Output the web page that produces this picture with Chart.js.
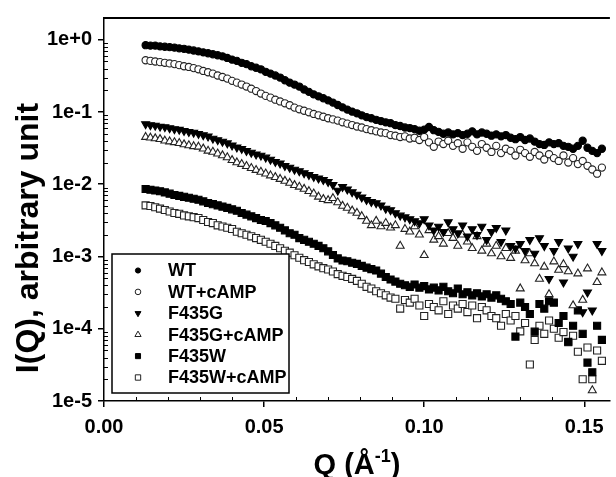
<!DOCTYPE html>
<html>
<head>
<meta charset="utf-8">
<script src="https://cdn.jsdelivr.net/npm/chart.js@4/dist/chart.umd.min.js"></script>
<style>
  html, body { margin: 0; padding: 0; background: #fff; }
  #marco { width: 616px; height: 477px; position: relative; }
</style>
</head>
<body>
<div id="marco"><canvas id="grafico"></canvas></div>
<script>
// Q grid (1/Å), shared by every curve
const q = [
  0.0130,0.0145,0.0160,0.0175,0.0190,0.0205,0.0220,0.0235,0.0250,0.0265,
  0.0280,0.0295,0.0310,0.0325,0.0340,0.0355,0.0370,0.0385,0.0400,0.0415,
  0.0430,0.0445,0.0460,0.0475,0.0490,0.0505,0.0520,0.0535,0.0550,0.0565,
  0.0580,0.0595,0.0610,0.0625,0.0640,0.0655,0.0670,0.0685,0.0700,0.0715,
  0.0730,0.0745,0.0760,0.0775,0.0790,0.0805,0.0820,0.0835,0.0850,0.0865,
  0.0880,0.0895,0.0910,0.0925,0.0940,0.0955,0.0970,0.0985,0.1000,0.1015,
  0.1030,0.1045,0.1060,0.1075,0.1090,0.1105,0.1120,0.1135,0.1150,0.1165,
  0.1180,0.1195,0.1210,0.1225,0.1240,0.1255,0.1270,0.1285,0.1300,0.1315,
  0.1330,0.1345,0.1360,0.1375,0.1390,0.1405,0.1420,0.1435,0.1450,0.1465,
  0.1480,0.1495,0.1510,0.1525,0.1540,0.1555
];

const iWT = [
  0.84,0.83,0.83,0.81,0.80,0.79,0.78,0.76,0.75,0.73,
  0.71,0.69,0.67,0.65,0.63,0.61,0.59,0.56,0.53,0.51,
  0.48,0.46,0.43,0.41,0.39,0.36,0.34,0.32,0.30,0.275,
  0.255,0.24,0.225,0.205,0.19,0.175,0.165,0.155,0.145,0.135,
  0.125,0.116,0.108,0.101,0.096,0.09,0.085,0.082,0.078,0.075,
  0.072,0.070,0.066,0.064,0.061,0.060,0.058,0.055,0.057,0.062,
  0.056,0.053,0.050,0.052,0.049,0.051,0.048,0.050,0.054,0.049,
  0.052,0.050,0.047,0.049,0.046,0.048,0.044,0.042,0.045,0.041,
  0.043,0.039,0.036,0.035,0.038,0.036,0.037,0.034,0.033,0.031,
  0.034,0.040,0.032,0.029,0.027,0.031
];

const iWTcAMP = [
  0.52,0.51,0.50,0.49,0.48,0.47,0.46,0.445,0.43,0.42,
  0.405,0.39,0.37,0.355,0.34,0.32,0.305,0.29,0.27,0.255,
  0.24,0.225,0.21,0.195,0.18,0.167,0.158,0.148,0.14,0.132,
  0.124,0.115,0.109,0.104,0.099,0.094,0.09,0.086,0.082,0.079,
  0.076,0.072,0.069,0.066,0.063,0.061,0.058,0.056,0.054,0.052,
  0.051,0.048,0.047,0.045,0.046,0.043,0.044,0.041,0.045,0.038,
  0.033,0.039,0.036,0.040,0.034,0.037,0.031,0.038,0.033,0.029,
  0.036,0.032,0.028,0.034,0.027,0.031,0.029,0.025,0.030,0.027,
  0.024,0.028,0.025,0.022,0.026,0.023,0.021,0.025,0.020,0.023,
  0.019,0.021,0.018,0.016,0.014,0.017
];

const iF435G = [
  0.068,0.066,0.065,0.063,0.062,0.060,0.058,0.057,0.055,0.053,
  0.052,0.050,0.048,0.046,0.043,0.041,0.039,0.037,0.0345,0.0325,
  0.031,0.029,0.0275,0.026,0.025,0.0235,0.022,0.0205,0.0195,0.018,
  0.017,0.016,0.0152,0.0143,0.0135,0.0127,0.0121,0.0115,0.0108,0.0098,
  0.0082,0.0092,0.0085,0.0078,0.0072,0.0066,0.0061,0.0057,0.0055,0.0051,
  0.0046,0.0044,0.0040,0.0037,0.0035,0.0033,0.0031,0.0029,0.0033,0.0027,
  0.0023,0.0026,0.0022,0.0030,0.0024,0.0021,0.0027,0.0019,0.0024,0.0020,
  0.0026,0.0017,0.0022,0.0025,0.0016,0.0023,0.0014,0.0013,0.0015,0.0012,
  0.0017,0.0011,0.0018,0.0014,0.00049,0.0012,0.0016,0.00044,0.0013,0.0010,
  0.0015,0.00017,0.00032,0.00018,0.0015,0.0012
];

const iF435GcAMP = [
  0.045,0.044,0.043,0.042,0.040,0.039,0.038,0.037,0.0355,0.0345,
  0.0335,0.033,0.031,0.029,0.028,0.0265,0.025,0.0235,0.0215,0.020,
  0.019,0.0178,0.0167,0.0157,0.0148,0.0140,0.0132,0.0125,0.0118,0.0111,
  0.0104,0.0097,0.0092,0.0086,0.0080,0.0074,0.0067,0.0062,0.0060,0.0064,
  0.0056,0.0050,0.0047,0.0043,0.0040,0.0036,0.0031,0.0027,0.0031,0.0026,
  0.0029,0.0025,0.0027,0.0014,0.0024,0.0022,0.0026,0.0020,0.00104,0.0023,
  0.0017,0.0019,0.0015,0.0021,0.0018,0.0014,0.0020,0.0016,0.0013,0.0019,
  0.0012,0.0015,0.0011,0.0014,0.0010,0.0013,0.00095,0.0012,0.00036,0.00088,
  0.0011,0.00080,0.00049,0.00072,0.00030,0.00085,0.00065,0.00078,0.00062,0.00021,
  0.00058,0.00025,0.00068,0.000014,0.00044,0.00060
];

const iF435W = [
  0.0086,0.0084,0.0082,0.0080,0.0077,0.0074,0.0071,0.0069,0.0067,0.0065,
  0.0063,0.0061,0.0058,0.0055,0.0053,0.0051,0.0049,0.0047,0.0045,0.0043,
  0.0040,0.0038,0.0036,0.0034,0.0032,0.0031,0.0029,0.0027,0.0025,0.0023,
  0.0021,0.0020,0.0018,0.0017,0.0016,0.0015,0.0014,0.0013,0.00118,0.00105,
  0.00094,0.00088,0.00086,0.00082,0.00079,0.00074,0.00070,0.00067,0.00064,0.00058,
  0.00052,0.00048,0.00045,0.00042,0.00040,0.00038,0.00041,0.00037,0.00039,0.00035,
  0.00037,0.00034,0.00038,0.00033,0.00031,0.00036,0.00030,0.00032,0.00029,0.00031,
  0.00028,0.00030,0.00027,0.00029,0.00026,0.00024,0.00022,0.000078,0.00023,0.00020,
  0.00016,0.000091,0.00022,0.00019,0.00024,0.00023,0.00012,0.00015,0.000066,0.00011,
  0.00018,0.000085,0.000034,0.000025,0.00011,0.000070
];

const iF435WcAMP = [
  0.0051,0.0050,0.0048,0.0046,0.0044,0.0042,0.0040,0.0039,0.0037,0.0036,
  0.0035,0.0034,0.0032,0.0030,0.0029,0.0027,0.0026,0.0025,0.0024,0.0022,
  0.0021,0.0020,0.0019,0.0018,0.0017,0.0016,0.0015,0.0014,0.0013,0.0012,
  0.00113,0.00104,0.00096,0.00089,0.00084,0.00078,0.00073,0.00069,0.00066,0.00062,
  0.00057,0.00054,0.00052,0.00049,0.00046,0.00042,0.00038,0.00036,0.00033,0.00031,
  0.00029,0.00027,0.00026,0.00019,0.00025,0.00023,0.00026,0.00021,0.00015,0.00022,
  0.00020,0.00018,0.00024,0.00016,0.00021,0.00019,0.00022,0.00017,0.00021,0.00014,
  0.00020,0.00018,0.00015,0.00014,0.00011,0.00016,0.00013,0.00015,0.000092,0.00012,
  0.000032,0.000070,0.00011,0.000085,0.00013,0.00010,0.000075,0.000090,0.000065,0.000080,
  0.000048,0.000020,0.000055,0.000020,0.000050,0.000036
];

const nombres = ["WT", "WT+cAMP", "F435G", "F435G+cAMP", "F435W", "F435W+cAMP"];
const valores = [iWT, iWTcAMP, iF435G, iF435GcAMP, iF435W, iF435WcAMP];

const yTicks = [1, 0.1, 0.01, 0.001, 0.0001, 0.00001];
const yTickLabels = ["1e+0", "1e-1", "1e-2", "1e-3", "1e-4", "1e-5"];
const xTicks = [0, 0.05, 0.10, 0.15];
const xTickLabels = ["0.00", "0.05", "0.10", "0.15"];

const fuente = "'Liberation Sans', Arial, sans-serif";

// marker look per series
const estilos = [
  {forma: 'circle',   giro: 0,   r: 3.6, relleno: '#000', borde: '#000', rLey: 2.6},
  {forma: 'circle',   giro: 0,   r: 3.6, relleno: '#fff', borde: '#222', rLey: 2.8},
  {forma: 'triangle', giro: 180, r: 4.6, relleno: '#000', borde: '#000', rLey: 3.4},
  {forma: 'triangle', giro: 0,   r: 4.6, relleno: '#fff', borde: '#222', rLey: 3.6},
  {forma: 'rect',     giro: 0,   r: 5.0, relleno: '#000', borde: '#000', rLey: 3.6},
  {forma: 'rect',     giro: 0,   r: 5.0, relleno: '#fff', borde: '#222', rLey: 3.8}
];

const datasets = nombres.map((nombre, i) => ({
  label: nombre,
  data: q.map((x, k) => ({x: x, y: valores[i][k]})),
  showLine: false,
  pointStyle: estilos[i].forma,
  pointRotation: estilos[i].giro,
  pointRadius: estilos[i].r,
  pointHoverRadius: estilos[i].r,
  pointBackgroundColor: estilos[i].relleno,
  pointBorderColor: estilos[i].borde,
  pointBorderWidth: 1.1,
  backgroundColor: estilos[i].relleno,
  borderColor: estilos[i].borde
}));

function dibujarMarca(ctx, est, x, y, r) {
  ctx.beginPath();
  if (est.forma === 'circle') {
    ctx.arc(x, y, r, 0, Math.PI * 2);
  } else if (est.forma === 'triangle') {
    let a = est.giro * Math.PI / 180;
    for (let k = 0; k < 3; k++) {
      const px = x + Math.sin(a) * r, py = y - Math.cos(a) * r;
      if (k === 0) ctx.moveTo(px, py); else ctx.lineTo(px, py);
      a += Math.PI * 2 / 3;
    }
    ctx.closePath();
  } else {
    const s = r * Math.SQRT1_2;
    ctx.rect(x - s, y - s, 2 * s, 2 * s);
  }
  ctx.fillStyle = est.relleno;
  ctx.fill();
  ctx.lineWidth = 1;
  ctx.strokeStyle = est.borde;
  ctx.stroke();
}

const decoracion = {
  id: 'decoracion',
  afterDraw(chart) {
    const ctx = chart.ctx;
    const area = chart.chartArea;
    const sx = chart.scales.x, sy = chart.scales.y;
    ctx.save();
    ctx.strokeStyle = '#000';

    // top frame line
    ctx.lineWidth = 2;
    ctx.beginPath();
    ctx.moveTo(area.left, area.top);
    ctx.lineTo(area.right, area.top);
    ctx.stroke();

    // minor ticks, pointing inwards
    ctx.lineWidth = 1;
    ctx.beginPath();
    for (let e = -5; e <= 0; e++) {
      for (let m = 2; m <= 9; m++) {
        const v = m * Math.pow(10, e);
        if (v > sy.max) continue;
        const y = Math.round(sy.getPixelForValue(v)) + 0.5;
        ctx.moveTo(area.left, y);
        ctx.lineTo(area.left + 4, y);
      }
    }
    for (let k = 1; k <= 15; k++) {
      if (k % 5 === 0) continue;
      const x = Math.round(sx.getPixelForValue(k / 100)) + 0.5;
      ctx.moveTo(x, area.bottom);
      ctx.lineTo(x, area.bottom - 4);
    }
    ctx.stroke();

    // legend box
    ctx.fillStyle = '#fff';
    ctx.fillRect(112, 254, 177, 139);
    ctx.lineWidth = 1.5;
    ctx.strokeStyle = '#000';
    ctx.strokeRect(112, 254, 177, 139);
    ctx.font = 'bold 18px ' + fuente;
    ctx.textAlign = 'left';
    ctx.textBaseline = 'middle';
    nombres.forEach((nombre, i) => {
      const y = 270.5 + i * 21.4;
      dibujarMarca(ctx, estilos[i], 138, y, estilos[i].rLey);
      ctx.fillStyle = '#000';
      ctx.fillText(nombre, 168, y + 1);
    });

    // y title
    ctx.save();
    ctx.translate(37.5, 238);
    ctx.rotate(-Math.PI / 2);
    ctx.font = 'bold 32px ' + fuente;
    ctx.textAlign = 'center';
    ctx.textBaseline = 'alphabetic';
    ctx.fillStyle = '#000';
    ctx.fillText('I(Q), arbitrary unit', 0, 0);
    ctx.restore();

    // x title with superscript
    const base = 'bold 29px ' + fuente, sup = 'bold 18px ' + fuente;
    ctx.font = base;
    const wa = ctx.measureText('Q (Å').width, wc = ctx.measureText(')').width;
    ctx.font = sup;
    const wb = ctx.measureText('-1').width;
    let x0 = 357 - (wa + wb + wc) / 2;
    const yb = 474;
    ctx.fillStyle = '#000';
    ctx.textAlign = 'left';
    ctx.textBaseline = 'alphabetic';
    ctx.font = base;
    ctx.fillText('Q (Å', x0, yb);
    ctx.font = sup;
    ctx.fillText('-1', x0 + wa, yb - 12);
    ctx.font = base;
    ctx.fillText(')', x0 + wa + wb, yb);

    ctx.restore();
  }
};

Chart.defaults.color = '#000';

new Chart(document.getElementById('grafico'), {
  type: 'scatter',
  data: {datasets: datasets},
  options: {
    responsive: true,
    maintainAspectRatio: false,
    animation: false,
    devicePixelRatio: 1,
    layout: {padding: {top: 13, left: 0, right: 0, bottom: 0}},
    plugins: {legend: {display: false}, tooltip: {enabled: false}},
    scales: {
      x: {
        type: 'linear',
        min: 0,
        max: 0.158,
        afterBuildTicks: s => { s.ticks = xTicks.map(v => ({value: v})); },
        afterFit: s => { s.height = 76; },
        ticks: {
          autoSkip: false,
          maxRotation: 0,
          padding: 8,
          color: '#000',
          font: {family: fuente, size: 20, weight: 'bold'},
          callback: v => xTickLabels[xTicks.findIndex(t => Math.abs(t - v) < 1e-9)]
        },
        grid: {drawOnChartArea: false, drawTicks: true, tickLength: 6, color: '#000', lineWidth: 1.5},
        border: {display: true, color: '#000', width: 1.5}
      },
      y: {
        type: 'logarithmic',
        min: 0.00001,
        max: 2,
        afterBuildTicks: s => { s.ticks = yTicks.map(v => ({value: v})); },
        afterFit: s => { s.width = 104; },
        ticks: {
          autoSkip: false,
          padding: 6,
          color: '#000',
          font: {family: fuente, size: 20, weight: 'bold'},
          callback: v => yTickLabels[yTicks.findIndex(t => Math.abs(Math.log10(t) - Math.log10(v)) < 1e-6)]
        },
        grid: {drawOnChartArea: false, drawTicks: true, tickLength: 6, color: '#000', lineWidth: 1.5},
        border: {display: true, color: '#000', width: 1.5}
      }
    }
  },
  plugins: [decoracion]
});
</script>
</body>
</html>
